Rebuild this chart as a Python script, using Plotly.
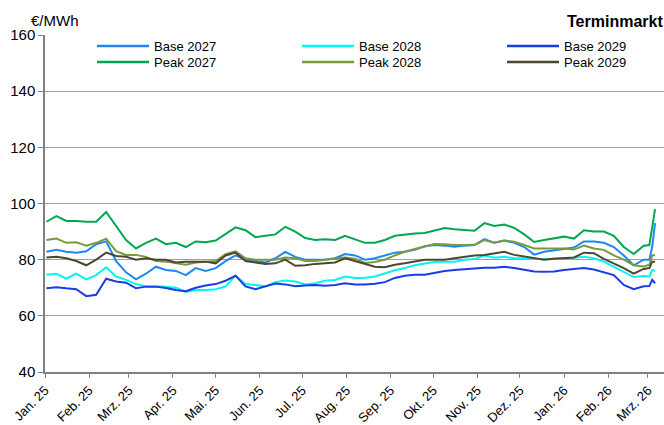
import pandas as pd
import plotly.graph_objects as go

# ---- data (weekly readings + final days) ----
dates = list(pd.date_range("2025-01-02", periods=61, freq="7D").strftime("%Y-%m-%d")) + \
    ["2026-03-02", "2026-03-04", "2026-03-06"]

series_names = ["Base 2027", "Base 2028", "Base 2029", "Peak 2027", "Peak 2028", "Peak 2029"]

base_2027 = [82.8, 83.5, 82.8, 82.5, 83.0, 85.5, 86.5, 79.5, 75.5, 73.0,
             75.0, 77.5, 76.3, 76.0, 74.5, 77.0, 76.0, 77.0, 79.5, 81.5,
             80.0, 79.5, 79.0, 80.5, 82.8, 81.0, 80.0, 80.0, 80.0, 80.5,
             82.0, 81.5, 80.0, 80.5, 81.5, 82.5, 82.8, 83.5, 84.8, 85.2,
             85.0, 84.6, 85.0, 85.2, 87.3, 86.0, 86.8, 86.0, 84.5, 81.8,
             82.8, 83.3, 83.8, 84.3, 86.5, 86.5, 86.0, 84.5, 81.5, 78.0,
             80.0, 80.0, 84.6, 93.0]
base_2028 = [74.6, 75.0, 73.2, 75.0, 73.0, 74.5, 77.3, 74.0, 72.8, 71.3,
             70.5, 70.4, 70.4, 70.0, 68.5, 69.2, 69.2, 69.5, 70.5, 74.3,
             71.3, 71.0, 70.5, 72.0, 72.6, 72.2, 71.2, 71.6, 72.5, 72.8,
             74.0, 73.5, 73.6, 74.0, 75.2, 76.2, 77.0, 78.0, 78.6, 79.2,
             79.3, 79.3, 80.0, 80.2, 81.5, 80.7, 81.0, 80.5, 80.5, 80.2,
             80.2, 80.3, 80.5, 80.7, 81.0, 80.5, 79.3, 77.5, 75.7, 73.8,
             74.2, 74.0, 76.3, 76.0]
base_2029 = [69.8, 70.2, 69.8, 69.5, 67.0, 67.5, 73.2, 72.2, 71.8, 69.8,
             70.4, 70.4, 69.9, 69.2, 68.8, 70.0, 70.8, 71.3, 72.5, 74.3,
             70.5, 69.5, 70.5, 71.5, 71.2, 70.5, 70.8, 71.0, 70.7, 71.0,
             71.6, 71.2, 71.2, 71.4, 72.0, 73.5, 74.3, 74.6, 74.6, 75.4,
             76.0, 76.3, 76.6, 77.0, 77.1, 77.1, 77.5, 77.0, 76.3, 75.8,
             75.7, 75.8, 76.3, 76.7, 77.0, 76.5, 75.5, 74.5, 71.0, 69.5,
             70.5, 70.6, 72.8, 71.6]
peak_2027 = [93.5, 95.5, 93.8, 93.8, 93.5, 93.5, 97.0, 92.0, 87.0, 84.0,
             86.0, 87.5, 85.5, 86.0, 84.5, 86.5, 86.2, 86.8, 89.0, 91.5,
             90.5, 88.0, 88.5, 89.0, 91.7, 90.0, 87.7, 87.0, 87.3, 87.0,
             88.5, 87.3, 86.0, 86.0, 87.0, 88.5, 89.0, 89.3, 89.5, 90.5,
             91.3, 90.8, 90.6, 90.3, 93.0, 92.0, 92.5, 91.3, 89.0, 86.3,
             87.0, 87.7, 88.2, 87.5, 90.5, 90.0, 90.0, 88.5, 84.5, 82.0,
             85.0, 85.2, 91.7, 98.0]
peak_2028 = [87.0, 87.5, 86.0, 86.2, 85.0, 86.0, 87.5, 83.0, 81.7, 81.7,
             81.0, 79.5, 79.3, 78.8, 78.2, 79.0, 79.3, 79.5, 82.0, 83.0,
             80.5, 80.0, 80.0, 80.0, 80.8, 80.5, 79.5, 79.5, 80.0, 80.3,
             80.8, 80.3, 78.8, 79.2, 80.0, 81.5, 82.8, 83.8, 84.8, 85.6,
             85.5, 85.2, 85.2, 85.3, 87.0, 86.0, 86.8, 86.4, 85.2, 84.0,
             84.0, 84.0, 84.0, 83.6, 85.0, 84.0, 83.5, 81.5, 80.0, 78.0,
             77.6, 78.2, 81.5, 81.7]
peak_2029 = [80.8, 81.0, 80.5, 79.5, 78.0, 80.0, 82.5, 81.3, 81.0, 80.0,
             80.5, 80.0, 80.0, 79.0, 79.3, 79.3, 79.3, 78.7, 81.5, 82.5,
             79.5, 79.0, 78.5, 78.7, 80.0, 77.8, 78.0, 78.5, 78.7, 79.0,
             80.5, 79.5, 78.3, 77.5, 77.3, 78.2, 78.7, 79.3, 80.0, 80.0,
             80.0, 80.5, 81.0, 81.5, 81.7, 82.3, 82.8, 81.7, 81.2, 80.5,
             80.0, 80.3, 80.5, 80.8, 82.5, 82.3, 80.3, 78.7, 77.0, 75.0,
             76.7, 77.0, 79.3, 79.3]

tick_dates = list(pd.date_range("2025-01-01", "2026-03-01", freq="MS").strftime("%Y-%m-%d"))
tick_labels = ["Jan. 25", "Feb. 25", "Mrz. 25", "Apr. 25", "Mai. 25", "Jun. 25", "Jul. 25",
               "Aug. 25", "Sep. 25", "Okt. 25", "Nov. 25", "Dez. 25", "Jan. 26", "Feb. 26", "Mrz. 26"]
y_ticks = [40, 60, 80, 100, 120, 140, 160]

# ---- styling ----
colors = ["#1E88F0", "#00F5F5", "#1A3CE0", "#00A650", "#7A9A3C", "#4E4632"]
FONT = "Liberation Sans, Arial, sans-serif"
W, H = 664, 425
L, R, T, B = 45, 0, 35, 53
PW, PH = W - L - R, H - T - B

def px(x):  # window pixel -> paper fraction
    return (x - L) / PW

def py(y):
    return (H - B - y) / PH

values = [base_2027, base_2028, base_2029, peak_2027, peak_2028, peak_2029]

fig = go.Figure()
for name, vals, col in zip(series_names, values, colors):
    fig.add_trace(go.Scatter(x=dates, y=vals, mode="lines", name=name,
                             line=dict(color=col, width=2), showlegend=False))

# manual legend (3 columns x 2 rows)
shapes = []
annotations = []
col_x = [97, 302, 507]
row_y = [46, 62]
for i, (name, col) in enumerate(zip(series_names, colors)):
    r, c = divmod(i, 3)
    x0 = col_x[c]
    y0 = row_y[r]
    shapes.append(dict(type="line", xref="paper", yref="paper",
                       x0=px(x0), x1=px(x0 + 52), y0=py(y0), y1=py(y0),
                       line=dict(color=col, width=2.5)))
    annotations.append(dict(text=name, xref="paper", yref="paper",
                            x=px(x0 + 55), y=py(y0), xanchor="left", yanchor="middle",
                            showarrow=False, font=dict(family=FONT, size=13, color="#000")))

annotations.append(dict(text="€/MWh", xref="paper", yref="paper", x=px(29), y=py(21),
                        xanchor="left", yanchor="middle", showarrow=False,
                        font=dict(family=FONT, size=15, color="#000")))
annotations.append(dict(text="<b>Terminmarkt</b>", xref="paper", yref="paper", x=px(665), y=py(22),
                        xanchor="right", yanchor="middle", showarrow=False,
                        font=dict(family=FONT, size=16, color="#000")))

fig.update_layout(
    width=W, height=H,
    margin=dict(l=L, r=R, t=T, b=B),
    paper_bgcolor="white", plot_bgcolor="white",
    font=dict(family=FONT, color="#000"),
    shapes=shapes, annotations=annotations,
    xaxis=dict(type="date", range=["2025-01-01", "2026-03-12 07:00"],
               tickmode="array", tickvals=tick_dates, ticktext=tick_labels,
               tickangle=-45, tickfont=dict(family=FONT, size=13, color="#000"),
               ticks="outside", ticklen=4, tickcolor="#808080", tickwidth=1,
               showline=True, linecolor="#808080", linewidth=1.5,
               showgrid=False, zeroline=False),
    yaxis=dict(range=[40, 160], tickmode="array", tickvals=y_ticks,
               tickfont=dict(family=FONT, size=15, color="#000"),
               ticks="outside", ticklen=5, tickcolor="#808080", tickwidth=1,
               showline=True, linecolor="#808080", linewidth=1.5,
               showgrid=True, gridcolor="#A0A0A0", gridwidth=1, zeroline=False),
)

fig.write_html("out.html", config={"displayModeBar": False},
               post_script="document.body.style.margin='0';document.body.style.overflow='hidden';")
